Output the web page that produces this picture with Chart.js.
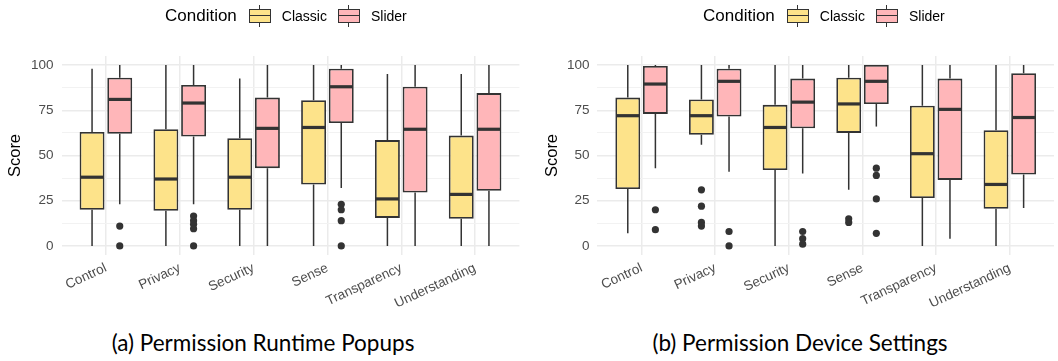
<!DOCTYPE html>
<html>
<head>
<meta charset="utf-8">
<script src="https://cdn.jsdelivr.net/npm/chart.js@4.4.1/dist/chart.umd.min.js"></script>
<style>
  body { margin: 0; background: #fff; font-family: 'Liberation Sans', Arial, sans-serif; }
  #wrap { position: relative; width: 1058px; height: 361px; overflow: hidden; }
  .panel { position: absolute; top: 0; width: 529px; height: 310px; }
  .legend { position: absolute; top: 5px; height: 22px; display: flex; align-items: center; white-space: nowrap; color: #000; }
  .legend .title { font-size: 17px; margin-right: 12px; }
  .legend .lab { font-size: 14px; margin-right: 11px; }
  .key { position: relative; width: 22px; height: 22px; margin-right: 11px; }
  .key::before { content: ''; position: absolute; left: 10px; width: 1.5px; top: 0; bottom: 0; background: #333; }
  .key .box { position: absolute; top: 4px; left: 0; width: 22px; height: 14px; box-sizing: border-box; border: 1.6px solid #333; }
  .key .box::after { content: ''; position: absolute; left: 0; right: 0; top: 4.6px; height: 1.6px; background: #333; }
  .caption { position: absolute; top: 329px; font-family: Lato, 'Noto Sans', sans-serif; font-size: 22.5px; color: #000; transform: translateX(-50%); white-space: nowrap; }
</style>
</head>
<body>
<div id="wrap">
  <div class="panel" style="left:0"><canvas id="popups" width="529" height="310"></canvas></div>
  <div class="panel" style="left:529px"><canvas id="settings" width="529" height="310"></canvas></div>

  <div class="legend" style="left:165px">
    <span class="title">Condition</span>
    <span class="key"><span class="box" style="background:#FDE38A"></span></span><span class="lab">Classic</span>
    <span class="key"><span class="box" style="background:#FFB6B9"></span></span><span class="lab">Slider</span>
  </div>
  <div class="legend" style="left:703px">
    <span class="title">Condition</span>
    <span class="key"><span class="box" style="background:#FDE38A"></span></span><span class="lab">Classic</span>
    <span class="key"><span class="box" style="background:#FFB6B9"></span></span><span class="lab">Slider</span>
  </div>

  <div class="caption" style="left:263px">(a) Permission Runtime Popups</div>
  <div class="caption" style="left:800px">(b) Permission Device Settings</div>
</div>

<script>
const categories = ['Control', 'Privacy', 'Security', 'Sense', 'Transparency', 'Understanding'];

// [lower whisker, q1, median, q3, upper whisker]
const popupsClassic = [
  [0, 20, 38, 63, 98],
  [0, 19.5, 37, 64.5, 100],
  [0, 20, 38, 59.5, 92.5],
  [0, 34, 65.5, 80.5, 100],
  [0, 15.5, 26, 58.5, 95],
  [0, 15, 28.5, 61, 95],
];
const popupsSlider = [
  [23, 62, 81, 93, 100],
  [23, 60.5, 79, 89, 100],
  [0, 43, 65, 82, 100],
  [32, 68, 88, 98, 100],
  [0, 29.5, 64.5, 88, 100],
  [0, 30.5, 64.5, 84.5, 100],
];
const popupsClassicOutliers = [[], [], [], [], [], []];
const popupsSliderOutliers = [[11, 0], [16.5, 14, 12, 9.5, 0], [], [23, 20, 14, 0], [], []];

const settingsClassic = [
  [7, 31.5, 72, 82, 100],
  [56, 61.5, 72, 81, 100],
  [0, 42, 65.5, 78, 100],
  [31, 62.5, 78.5, 93, 100],
  [0, 26.5, 51, 77.5, 100],
  [0, 20.5, 34, 64, 100],
];
const settingsSlider = [
  [43, 73, 89.5, 99.5, 100],
  [41, 71.5, 91, 98, 100],
  [40, 65, 79.5, 92.5, 100],
  [66, 78.5, 91, 100, 100],
  [4, 36.5, 75.5, 92.5, 100],
  [21, 39.5, 71, 95.5, 100],
];
const settingsClassicOutliers = [[], [31, 22, 13, 11], [], [15, 13], [], []];
const settingsSliderOutliers = [[20, 9], [8, 0], [8, 4, 1], [43, 39, 26, 7], [], []];

const classicColor = '#FDE38A';
const sliderColor = '#FFB6B9';
const ink = '#333333';

Chart.defaults.font.family = "'Liberation Sans', Arial, sans-serif";
Chart.defaults.color = '#4d4d4d';

// whiskers and medians on top of the floating bars
const boxWhiskers = {
  id: 'boxWhiskers',
  afterDatasetsDraw(chart) {
    const ctx = chart.ctx;
    const y = chart.scales.y;
    chart.data.datasets.forEach((ds, d) => {
      if (!ds.stats) return;
      chart.getDatasetMeta(d).data.forEach((bar, i) => {
        const s = ds.stats[i];
        const half = bar.width / 2;
        ctx.save();
        ctx.strokeStyle = ink;
        ctx.lineWidth = 1.5;
        ctx.beginPath();
        ctx.moveTo(bar.x, y.getPixelForValue(s[3]));
        ctx.lineTo(bar.x, y.getPixelForValue(s[4]));
        ctx.moveTo(bar.x, y.getPixelForValue(s[1]));
        ctx.lineTo(bar.x, y.getPixelForValue(s[0]));
        ctx.stroke();
        ctx.lineWidth = 3.2;
        ctx.beginPath();
        const ym = y.getPixelForValue(s[2]);
        ctx.moveTo(bar.x - half + 0.8, ym);
        ctx.lineTo(bar.x + half - 0.8, ym);
        ctx.stroke();
        ctx.restore();
      });
    });
  }
};

const dodge = 0.1875;
const outlierPoints = (list, off) => list.flatMap((vals, i) => vals.map(v => ({ x: i + 1 + off, y: v })));
const boxData = (stats) => stats.map((s, i) => ({ x: i + 1, y: [s[1], s[3]] }));

function makeChart(id, classic, slider, classicOut, sliderOut, pad, yWidth) {
  const boxStyle = { borderColor: ink, borderWidth: 1.8, borderSkipped: false, categoryPercentage: 0.75, barPercentage: 0.9 };
  return new Chart(document.getElementById(id), {
    type: 'bar',
    data: {
      datasets: [
        { label: 'Classic', data: boxData(classic), stats: classic, backgroundColor: classicColor, ...boxStyle },
        { label: 'Slider', data: boxData(slider), stats: slider, backgroundColor: sliderColor, ...boxStyle },
        { type: 'scatter', data: outlierPoints(classicOut, -dodge), pointRadius: 3.6, backgroundColor: ink, borderWidth: 0 },
        { type: 'scatter', data: outlierPoints(sliderOut, dodge), pointRadius: 3.6, backgroundColor: ink, borderWidth: 0 },
      ],
    },
    options: {
      responsive: false,
      animation: false,
      layout: { padding: pad },
      plugins: { legend: { display: false }, tooltip: { enabled: false } },
      scales: {
        x: {
          type: 'linear',
          min: 0.4,
          max: 6.6,
          offset: false,
          grid: { offset: false, color: '#ebebeb', lineWidth: 1.5, drawTicks: false },
          border: { display: false },
          ticks: {
            stepSize: 1,
            includeBounds: false,
            autoSkip: false,
            minRotation: 25,
            maxRotation: 25,
            padding: 5,
            font: { size: 13.5 },
            callback: (v) => categories[v - 1] ?? '',
          },
          afterFit: (scale) => { scale.height = 55; },
        },
        y: {
          min: -5,
          max: 105,
          grid: {
            color: (c) => (c.tick && c.tick.value % 25 === 0 ? '#ebebeb' : '#f2f2f2'),
            lineWidth: (c) => (c.tick && c.tick.value % 25 === 0 ? 1.5 : 1),
            drawTicks: false,
          },
          border: { display: false },
          ticks: {
            stepSize: 12.5,
            includeBounds: false,
            autoSkip: false,
            padding: 8,
            font: { size: 13.5 },
            callback: (v) => (v % 25 === 0 ? v : ''),
          },
          title: { display: true, text: 'Score', color: '#000', font: { size: 16.5 }, padding: { top: 6, bottom: 4 } },
          afterFit: (scale) => { scale.width = yWidth; },
        },
      },
    },
    plugins: [boxWhiskers],
  });
}

makeChart('popups', popupsClassic, popupsSlider, popupsClassicOutliers, popupsSliderOutliers,
  { top: 56, right: 9.6, bottom: 0, left: 0 }, 61.6);
makeChart('settings', settingsClassic, settingsSlider, settingsClassicOutliers, settingsSliderOutliers,
  { top: 56, right: 2.4, bottom: 0, left: 8 }, 60.4);
</script>
</body>
</html>
